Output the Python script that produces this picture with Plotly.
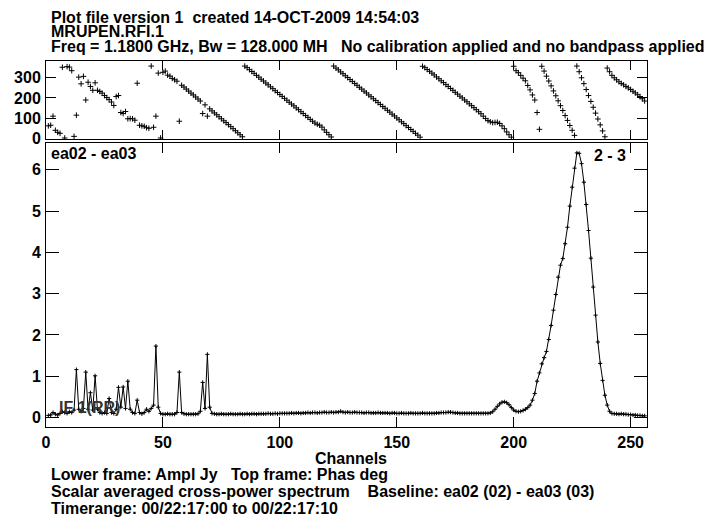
import plotly.graph_objects as go

channels = list(range(1, 257))

phase_deg = [
    62, 65, 110, 40, 30, 25, 352, 2, 355, 353, 335, 10, 115, 303, 270, 307, 190, 278, 257, 238,
    275, 238, 232, 224, 212, 202, 192, 180, 163, 207, 212, 128, 123, 133, 97, 98, 97, 90, 273, 65,
    62, 60, 53, 50, 358, 55, 110, 323, 2, 327, 333, 313, 308, 297, 290, 283,
    85, 263, 254, 244, 234, 224, 215, 205, 195, 185, 123, 166, 110, 146, 136, 126, 117, 107, 97, 87,
    78, 68, 58, 48, 38, 28, 18, 8,
    358, 350, 340, 331, 322, 312, 303, 293, 284, 274, 265, 255, 246, 236, 227, 217, 208, 198, 189, 179,
    170, 161, 151, 142, 132, 123, 113, 104, 94, 85, 76, 70, 65, 56, 42, 30, 18, 7,
    358, 348, 339, 329, 320, 310, 301, 291, 282, 272, 263, 253, 244, 234, 225, 215, 206, 196, 187, 177,
    168, 158, 149, 139, 130, 120, 111, 101, 92, 82, 73, 63, 54, 44, 35, 25, 16, 6,
    357, 350, 341, 332, 323, 314, 304, 295, 285, 276, 266, 257, 247, 238, 228, 219, 209, 200, 190, 181,
    171, 162, 152, 142, 132, 122, 110, 98, 88, 82, 78, 79, 80, 74, 62, 48, 32, 18, 6,
    357, 335, 325, 312, 298, 285, 262, 240, 215, 190, 128, 45,
    357, 333, 308, 284, 260, 235, 211, 186, 162, 138, 113, 89, 64, 40, 15,
    358, 330, 300, 271, 242, 212, 183, 154, 125, 96, 67, 37, 8,
    348, 330, 312, 300, 290, 280, 272, 265, 257, 250, 242, 233, 225, 216, 207, 196, 185,
]

ampl_jy = [
    0.05, 0.06, 0.12, 0.08, 0.06, 0.1, 0.14, 0.12, 0.1, 0.14, 0.12, 0.18,
    1.16, 0.2, 0.15, 0.22, 1.1, 0.2, 0.6, 0.18, 1.01, 0.2, 0.12, 0.1,
    0.12, 0.1, 0.46, 0.12, 0.1, 0.2, 0.73, 0.25, 0.74, 0.22, 0.88, 0.2,
    0.12, 0.1, 0.42, 0.12, 0.09, 0.12, 0.2, 0.15, 0.22, 0.3, 1.73, 0.25,
    0.1, 0.08, 0.08, 0.09, 0.08, 0.08, 0.08, 0.12, 1.1, 0.12, 0.09, 0.08,
    0.08, 0.08, 0.08, 0.08, 0.09, 0.15, 0.85, 0.22, 1.53, 0.25, 0.1, 0.09,
    0.08, 0.08, 0.09, 0.08, 0.08, 0.08, 0.09, 0.08, 0.08, 0.08,
    0.09, 0.08, 0.08, 0.09, 0.08, 0.09, 0.09, 0.08, 0.09, 0.09,
    0.09, 0.09, 0.1, 0.09, 0.09, 0.1, 0.09, 0.1, 0.1, 0.1,
    0.1, 0.1, 0.11, 0.1, 0.11, 0.11, 0.1, 0.11, 0.11, 0.12,
    0.11, 0.12, 0.12, 0.11, 0.12, 0.12, 0.13, 0.12, 0.12, 0.13,
    0.12, 0.13, 0.13, 0.15, 0.13, 0.12, 0.13, 0.12, 0.12, 0.13,
    0.12, 0.12, 0.12, 0.11, 0.12, 0.12, 0.11, 0.11, 0.11, 0.12,
    0.11, 0.11, 0.11, 0.11, 0.1, 0.11, 0.11, 0.1, 0.1, 0.11,
    0.1, 0.1, 0.1, 0.11, 0.1, 0.1, 0.1, 0.1, 0.11, 0.1,
    0.1, 0.1, 0.1, 0.1, 0.11, 0.11, 0.12, 0.12, 0.12, 0.13,
    0.13, 0.12, 0.11, 0.11, 0.1, 0.1, 0.1, 0.1, 0.1, 0.1,
    0.1, 0.1, 0.1, 0.1, 0.1, 0.1, 0.1,
    0.11, 0.14, 0.2, 0.27, 0.33, 0.37, 0.38, 0.36, 0.31, 0.24, 0.18, 0.15, 0.14, 0.15, 0.17, 0.2,
    0.24, 0.3, 0.42, 0.58, 0.88, 1.08, 1.3, 1.45, 1.6, 1.89,
    2.23, 2.6, 2.98, 3.4, 3.69, 3.85, 4.21, 4.61, 5.12, 5.58,
    6.04, 6.41, 6.4, 6.15, 5.7, 5.16, 4.53, 3.86, 3.16, 2.48,
    1.83, 1.31, 0.9, 0.54, 0.3, 0.15, 0.1,
    0.09, 0.09, 0.08, 0.09, 0.08, 0.08, 0.07, 0.07, 0.06, 0.06, 0.05, 0.05, 0.04, 0.04,
]

x_ticks = [0, 50, 100, 150, 200, 250]
phase_ticks = [0, 100, 200, 300]
ampl_ticks = [0, 1, 2, 3, 4, 5, 6]

title_lines = [
    "Plot file version 1  created 14-OCT-2009 14:54:03",
    "MRUPEN.RFI.1",
    "Freq = 1.1800 GHz, Bw = 128.000 MH   No calibration applied and no bandpass applied",
]
footer_lines = [
    "Lower frame: Ampl Jy   Top frame: Phas deg",
    "Scalar averaged cross-power spectrum    Baseline: ea02 (02) - ea03 (03)",
    "Timerange: 00/22:17:00 to 00/22:17:10",
]

FONT = "Liberation Sans, Arial, Helvetica, sans-serif"
fnt = dict(family=FONT, size=16, color="black", weight="bold")

fig = go.Figure()
fig.add_trace(go.Scatter(
    x=channels, y=phase_deg, mode="markers", xaxis="x2", yaxis="y2",
    marker=dict(symbol="cross-thin", size=4, line=dict(width=1, color="black"), color="black"),
    showlegend=False, hoverinfo="skip"))
fig.add_trace(go.Scatter(
    x=channels, y=ampl_jy, mode="lines+markers", xaxis="x", yaxis="y",
    line=dict(color="black", width=1),
    marker=dict(symbol="cross-thin", size=3, line=dict(width=1, color="black"), color="black"),
    showlegend=False, hoverinfo="skip"))

W, H = 717, 517
L, R, T, B = 46, 70, 61, 90
ph = H - T - B  # 366
pw = W - L - R  # 601

def py(pix):
    return (H - B - pix) / ph

def px(pix):
    return (pix - L) / pw

lower_top = 143
upper_bottom = 139

axis_common = dict(showline=True, linecolor="black", linewidth=1, mirror="ticks",
                   ticks="inside", tickcolor="black", showgrid=False, zeroline=False,
                   tickfont=fnt)

fig.update_layout(
    width=W, height=H,
    margin=dict(l=L, r=R, t=T, b=B, pad=0),
    paper_bgcolor="white", plot_bgcolor="white",
    xaxis=dict(axis_common, domain=[0, 1], range=[0, 257], tickvals=x_ticks,
               ticklen=10, anchor="y", ticklabelstandoff=1),
    yaxis=dict(axis_common, domain=[0, py(lower_top)], range=[-0.23, 6.65],
               tickvals=ampl_ticks, ticklen=13, anchor="x", ticklabelstandoff=1),
    xaxis2=dict(axis_common, domain=[0, 1], range=[0, 257], tickvals=x_ticks,
                ticklen=9, anchor="y2", showticklabels=False),
    yaxis2=dict(axis_common, domain=[py(upper_bottom), 1], range=[-3, 383],
                tickvals=phase_ticks, ticklen=10, anchor="x2", ticklabelstandoff=1),
)

ann = []
for i, t in enumerate(title_lines):
    ann.append(dict(text=t, x=px(49), y=py(17 + 14.5 * i), xref="paper", yref="paper",
                    xanchor="left", yanchor="middle", showarrow=False, font=fnt))
ann.append(dict(text="Channels", x=px(351), y=py(458), xref="paper", yref="paper",
                xanchor="center", yanchor="middle", showarrow=False, font=fnt))
for i, t in enumerate(footer_lines):
    ann.append(dict(text=t, x=px(49), y=py(474.5 + 17 * i), xref="paper", yref="paper",
                    xanchor="left", yanchor="middle", showarrow=False, font=fnt))
ann.append(dict(text="ea02 - ea03", x=px(49), y=py(153), xref="paper", yref="paper",
                xanchor="left", yanchor="middle", showarrow=False, font=fnt))
ann.append(dict(text="2 - 3", x=px(628), y=py(155), xref="paper", yref="paper",
                xanchor="right", yanchor="middle", showarrow=False, font=fnt))
ann.append(dict(text="IF 1(RR)", x=px(57), y=py(407), xref="paper", yref="paper",
                xanchor="left", yanchor="middle", showarrow=False,
                font=dict(family=FONT, size=16, color="#333333", weight="bold")))
fig.update_layout(annotations=ann)

fig.write_html("out.html", config={"displayModeBar": False},
               post_script="document.body.style.margin='0px';")
